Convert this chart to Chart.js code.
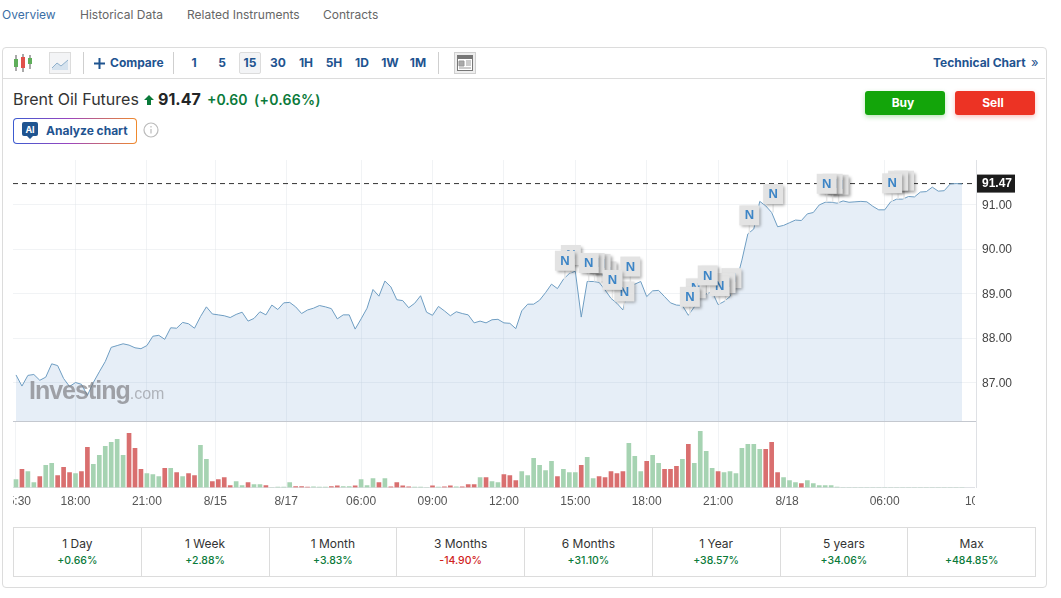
<!DOCTYPE html>
<html>
<head>
<meta charset="utf-8">
<title>Brent Oil Futures</title>
<script src="https://cdn.jsdelivr.net/npm/chart.js@4"></script>
<style>
  html, body { margin: 0; padding: 0; background: #fff; overflow: hidden; }
  body { width: 1061px; height: 598px; position: relative; font-family: Inter, "Noto Sans", sans-serif; color: #333; }
  .abs { position: absolute; white-space: nowrap; }
  .tab { top: 8px; font-size: 12px; line-height: 14px; color: #666; }
  .card { left: 2px; top: 47px; width: 1043px; height: 539px; border: 1px solid #dcdcdc; border-radius: 4px; }
  .tbline { left: 3px; top: 78px; width: 1042px; height: 1px; background: #dcdcdc; }
  .sep { top: 52px; width: 1px; height: 22px; background: #cfcfcf; }
  .tf { top: 52px; width: 22px; height: 22px; line-height: 22px; text-align: center; font-size: 12px; font-weight: 700; color: #1f5490; }
  .tf.on { background: #f3f4f6; border: 1px solid #dcdcdc; border-radius: 2px; height: 20px; width: 20px; line-height: 20px; }
  .btn { top: 91px; width: 76px; padding-right: 4px; height: 24px; line-height: 24px; text-align: center; border-radius: 3px; font-size: 12px; font-weight: 700; color: #fff; }
  .wrap { position: absolute; overflow: hidden; }
  canvas { display: block; }
  table.perf { position: absolute; left: 13px; top: 527px; width: 1023px; height: 50px; border-collapse: collapse; table-layout: fixed; }
  table.perf td { border: 1px solid #dcdcdc; text-align: center; padding: 0; font-size: 12px; line-height: 16px; color: #333; }
  table.perf b { display: block; font-size: 10.5px; font-weight: 500; color: #0a7a3a; margin-top: 1px; }
  table.perf b.neg { color: #d0231c; }
</style>
</head>
<body>

<div class="abs tab" style="left:2px;color:#3a6ea5">Overview</div>
<div class="abs tab" style="left:80px">Historical Data</div>
<div class="abs tab" style="left:187px">Related Instruments</div>
<div class="abs tab" style="left:323px">Contracts</div>

<div class="abs card"></div>
<div class="abs tbline"></div>

<svg class="abs" style="left:13px;top:53px" width="20" height="20">
  <path d="M3 2v16M10 1v18M17 2v14" stroke="#555" stroke-width="1"/>
  <rect x="1" y="6" width="4" height="8" fill="#5fae5a"/>
  <rect x="8" y="4" width="4" height="11" fill="#e0504a"/>
  <rect x="15" y="5" width="4" height="6" fill="#5fae5a"/>
</svg>
<svg class="abs" style="left:49px;top:52px" width="22" height="22">
  <rect x="0.5" y="0.5" width="21" height="21" fill="#f3f4f6" stroke="#dcdcdc"/>
  <path d="M3 16l5-5 4 3 7-6v10H3z" fill="#d5e2ee"/>
  <path d="M3 16l5-5 4 3 7-6" fill="none" stroke="#8fb0cc"/>
</svg>
<div class="abs sep" style="left:83px"></div>
<svg class="abs" style="left:93px;top:57px" width="13" height="13"><path d="M6.5 1v11M1 6.5h11" stroke="#1f5490" stroke-width="2"/></svg>
<div class="abs" style="left:110px;top:56px;font-size:12px;line-height:14px;font-weight:700;color:#1f5490">Compare</div>
<div class="abs sep" style="left:173px"></div>
<div class="abs tf" style="left:183px">1</div>
<div class="abs tf" style="left:211px">5</div>
<div class="abs tf on" style="left:239px">15</div>
<div class="abs tf" style="left:267px">30</div>
<div class="abs tf" style="left:295px">1H</div>
<div class="abs tf" style="left:323px">5H</div>
<div class="abs tf" style="left:351px">1D</div>
<div class="abs tf" style="left:379px">1W</div>
<div class="abs tf" style="left:407px">1M</div>
<div class="abs sep" style="left:438px"></div>
<svg class="abs" style="left:454px;top:52px" width="22" height="22">
  <rect x="0.5" y="0.5" width="21" height="21" fill="#eee" stroke="#cfcfcf"/>
  <rect x="3.5" y="3.5" width="15" height="15" fill="#fff" stroke="#777"/>
  <rect x="4" y="4" width="14" height="3" fill="#777"/>
  <path d="M5 9h5v5H5zM12 9h5M12 11h5M12 13h5M5 16h12" fill="#aaa" stroke="#999" stroke-width="1"/>
</svg>
<div class="abs" style="left:933px;top:56px;font-size:12px;line-height:14px;font-weight:700;color:#1f5490">Technical Chart</div>
<div class="abs" style="left:1031px;top:55px;font-size:13px;line-height:14px;color:#1f5490">»</div>

<div class="abs" style="left:13px;top:89px;font-size:16px;line-height:20px;color:#333">Brent Oil Futures</div>
<svg class="abs" style="left:143px;top:94px" width="12" height="12"><path d="M6 1l5 5H8v5H4V6H1z" fill="#0a7a3a"/></svg>
<div class="abs" style="left:158px;top:89px;font-size:16px;line-height:20px;font-weight:700;color:#232526">91.47</div>
<div class="abs" style="left:207px;top:90px;font-size:14px;line-height:20px;font-weight:600;color:#0a7a3a">+0.60</div>
<div class="abs" style="left:254px;top:90px;font-size:14px;line-height:20px;font-weight:600;letter-spacing:.25px;color:#0a7a3a">(+0.66%)</div>

<div class="abs btn" style="left:865px;background:#13a50a;box-shadow:0 2px 5px rgba(19,165,10,.3)">Buy</div>
<div class="abs btn" style="left:955px;background:#ec3324;box-shadow:0 2px 5px rgba(236,51,36,.3)">Sell</div>

<div class="abs" style="left:13px;top:118px;width:124px;height:26px;border-radius:4px;background:linear-gradient(90deg,#3b5bd0,#9a45c0 45%,#f08a2c);"></div>
<div class="abs" style="left:14px;top:119px;width:122px;height:24px;border-radius:3px;background:#fff;"></div>
<svg class="abs" style="left:22px;top:122px" width="16" height="17">
  <path d="M2 0h12a2 2 0 0 1 2 2v10a2 2 0 0 1-2 2h-3l-3 3-3-3H2a2 2 0 0 1-2-2V2a2 2 0 0 1 2-2z" fill="#1f5490"/>
  <text x="8" y="10.5" text-anchor="middle" font-size="9" font-weight="700" fill="#fff" font-family="Inter">AI</text>
</svg>
<div class="abs" style="left:46px;top:124px;font-size:12px;line-height:14px;font-weight:700;color:#1f5490">Analyze chart</div>
<svg class="abs" style="left:143px;top:122px" width="16" height="16">
  <circle cx="8" cy="8" r="7" fill="none" stroke="#bbb" stroke-width="1.2"/>
  <path d="M8 7v4.5M8 4v1.5" stroke="#bbb" stroke-width="1.2"/>
</svg>

<div class="wrap" style="left:13px;top:160px;width:1033px;height:262px">
  <canvas id="priceChart" width="1033" height="262"></canvas>
</div>
<div class="abs" style="left:29px;top:375px;font-family:'Liberation Sans',sans-serif;color:rgba(120,120,125,.66);letter-spacing:-1px;font-size:25px;line-height:30px;font-weight:700">Investing<span style="font-weight:400;font-size:16px;letter-spacing:0;color:rgba(120,120,125,.5)">.com</span></div>

<div class="wrap" style="left:13px;top:422px;width:962px;height:90px">
  <canvas id="volumeChart" width="1000" height="90"></canvas>
</div>
<div class="abs" style="left:976px;top:421px;width:1px;height:67px;background:#dfe1e5"></div>

<table class="perf"><tr id="perfRow"></tr></table>

<script>
// 15 min bars, index 0 = 15:30
const prices = [
  87.17,86.92,87.16,87.18,87.05,87.12,87.42,87.38,87.09,86.91,
  87.00,86.96,86.71,87.00,87.24,87.47,87.79,87.83,87.87,87.84,
  87.78,87.76,87.83,88.04,88.06,87.97,88.23,88.22,88.35,88.32,
  88.22,88.48,88.70,88.54,88.52,88.50,88.46,88.53,88.58,88.38,
  88.44,88.59,88.52,88.74,88.64,88.79,88.80,88.70,88.55,88.63,
  88.67,88.73,88.70,88.66,88.43,88.52,88.52,88.20,88.43,88.67,
  89.09,88.94,89.28,89.15,88.86,88.84,88.68,88.78,88.95,88.58,
  88.51,88.71,88.61,88.50,88.59,88.55,88.52,88.34,88.38,88.34,
  88.41,88.42,88.34,88.33,88.21,88.61,88.76,88.76,88.85,89.02,
  89.21,89.11,89.32,89.45,89.50,88.47,89.27,89.27,89.25,89.08,
  88.89,88.78,88.63,89.19,89.21,89.27,88.93,89.06,89.07,88.93,
  88.79,88.74,88.73,88.51,88.70,88.93,88.99,89.04,88.75,88.82,
  88.93,89.23,89.75,90.34,90.45,91.07,90.97,90.82,90.50,90.53,
  90.59,90.65,90.64,90.79,90.82,90.99,91.05,91.05,91.03,91.08,
  91.05,91.06,91.07,91.06,90.96,90.88,90.88,91.06,91.12,91.12,
  91.18,91.17,91.28,91.29,91.39,91.30,91.31,91.46,91.47,91.46
];
const volumes = [
  24,54,48,15,33,66,72,36,60,45,
  42,48,120,69,96,123,135,144,96,162,
  117,54,42,39,33,57,57,45,33,42,
  36,126,84,18,24,30,6,18,6,15,
  9,9,6,0,1,1,15,3,3,1,
  2,1,1,3,5,3,3,5,24,6,
  27,15,27,2,15,5,2,1,1,0,
  5,1,2,5,2,2,9,9,30,30,
  18,15,39,36,21,48,36,87,66,51,
  78,33,54,45,45,66,90,27,33,30,
  48,42,48,132,93,48,78,96,72,54,
  54,63,84,129,72,168,108,57,48,45,
  48,42,117,129,129,114,114,135,45,30,
  21,15,12,21,12,6,6,6,1,0,
  0,0,0,0,0,0,0,0,0,0,
  0,0,0,0,0,0,0,0,0,0
];
// 1 = up bar, -1 = down bar
const volumeDir = [
  1,-1,1,1,-1,1,1,-1,-1,-1,
  1,-1,-1,1,1,1,1,1,1,-1,
  -1,-1,1,1,1,-1,1,-1,1,-1,
  -1,1,1,-1,-1,-1,-1,1,1,-1,
  1,1,-1,1,1,1,1,-1,-1,-1,
  1,1,1,-1,-1,1,1,-1,1,1,
  1,-1,1,-1,-1,-1,-1,1,1,1,
  -1,1,-1,-1,1,-1,-1,-1,1,-1,
  1,1,-1,-1,-1,1,1,1,1,1,
  1,-1,1,1,1,-1,1,1,-1,-1,
  -1,-1,-1,1,1,1,-1,1,1,-1,
  -1,-1,1,-1,1,1,1,1,-1,1,
  1,1,1,1,1,1,-1,-1,-1,1,
  1,1,-1,1,1,1,1,1,1,1,
  1,1,1,1,1,1,1,1,1,1,
  1,1,1,1,1,1,1,1,1,1
];
const lastPrice = 91.47;
const priceTicks = [87, 88, 89, 90, 91];
const timeTickIdx = [0, 10, 22, 33.5, 45.4, 58, 70, 82, 94, 106, 118, 129.6, 146, 162];
const timeTickLabels = ["15:30","18:00","21:00","8/15","8/17","06:00","09:00","12:00","15:00","18:00","21:00","8/18","06:00","10:00"];
// bar index of each news flag, in paint order (last one on top)
const newsFlags = [93,92,99,98,97,96,103,102,100,114,113,120,119,118,116,123,127,138,137,136,149,148,147];
const perfLabels = ["1 Day","1 Week","1 Month","3 Months","6 Months","1 Year","5 years","Max"];
const perfValues = ["+0.66%","+2.88%","+3.83%","-14.90%","+31.10%","+38.57%","+34.06%","+484.85%"];

const PX_PER_BAR = 5.95;
const X_MIN = -0.504;

document.getElementById("perfRow").innerHTML = perfLabels.map((l, i) =>
  `<td>${l}<b class="${perfValues[i][0] === "-" ? "neg" : ""}">${perfValues[i]}</b></td>`).join("");

const gridClr = "rgba(225,228,232,.45)";
const axisFont = { family: "'Liberation Sans', Arial, sans-serif", size: 12 };

function noPad(s) { s.paddingLeft = 0; s.paddingRight = 0; s.paddingTop = 0; s.paddingBottom = 0; }

/* flags and the last price tag */
const overlayPlugin = {
  id: "overlay",
  // price labels sit about a pixel lower than their grid line in the original
  beforeDraw(chart) {
    chart.scales.y.getLabelItems(chart.chartArea).forEach(it => { it.options.translation[1] += 1; });
  },
  afterDatasetsDraw(chart) {
    const { ctx, scales: { x, y } } = chart;
    newsFlags.forEach(i => {
      const px = x.getPixelForValue(i) + 1.5;
      const py = y.getPixelForValue(prices[i]);
      ctx.save();
      ctx.strokeStyle = "#e8e8e8";
      ctx.lineWidth = 1.5;
      ctx.beginPath(); ctx.moveTo(px, py - 9); ctx.lineTo(px, py); ctx.stroke();
      ctx.shadowColor = "rgba(0,0,0,.35)";
      ctx.shadowBlur = 3;
      ctx.shadowOffsetX = 2;
      ctx.shadowOffsetY = 2;
      ctx.fillStyle = "#e3e3e3";
      ctx.fillRect(px - 10, py - 28.5, 20, 20);
      ctx.restore();
      ctx.save();
      ctx.fillStyle = "#3d85c6";
      ctx.font = "bold 13px 'Liberation Sans', Arial, sans-serif";
      ctx.textAlign = "center";
      ctx.textBaseline = "middle";
      ctx.fillText("N", px, py - 18);
      ctx.restore();
    });
    const ty = y.getPixelForValue(lastPrice);
    ctx.save();
    ctx.fillStyle = "#1c1c1c";
    ctx.fillRect(x.right + 1, ty - 9, 38, 18);
    ctx.fillStyle = "#fff";
    ctx.font = "bold 12px 'Liberation Sans', Arial, sans-serif";
    ctx.textAlign = "left";
    ctx.textBaseline = "middle";
    ctx.fillText(lastPrice.toFixed(2), x.right + 6, ty + 0.5);
    ctx.restore();
  }
};

const xMaxPrice = X_MIN + 963 / PX_PER_BAR;

new Chart(document.getElementById("priceChart"), {
  type: "line",
  data: {
    datasets: [
      {
        data: prices.map((v, i) => ({ x: i, y: v })),
        borderColor: "#6e9dc2",
        backgroundColor: "rgba(117,162,208,.18)",
        borderWidth: 1,
        pointRadius: 0,
        tension: 0,
        fill: "start"
      },
      {
        data: [{ x: X_MIN, y: lastPrice }, { x: xMaxPrice, y: lastPrice }],
        borderColor: "#333",
        borderWidth: 1,
        borderDash: [5, 4],
        pointRadius: 0,
        fill: false
      }
    ]
  },
  options: {
    responsive: false,
    animation: false,
    events: [],
    layout: { padding: 0 },
    plugins: { legend: { display: false }, tooltip: { enabled: false } },
    scales: {
      x: {
        type: "linear",
        min: X_MIN,
        max: xMaxPrice,
        afterBuildTicks(s) { s.ticks = timeTickIdx.filter(v => v > 1 && v < xMaxPrice).map(v => ({ value: v })); },
        afterFit(s) { noPad(s); s.height = 1; },
        ticks: { display: false },
        grid: { color: gridClr, drawTicks: false },
        border: { color: "#c4c8cf" }
      },
      y: {
        position: "right",
        min: 86.135,
        max: 92,
        afterBuildTicks(s) { s.ticks = priceTicks.map(v => ({ value: v })); },
        afterFit(s) { noPad(s); s.width = 70; },
        ticks: { color: "#444", font: axisFont, padding: 6, callback: v => v.toFixed(2) },
        grid: { color: gridClr, drawTicks: false },
        border: { color: "#dfe1e5" }
      }
    }
  },
  plugins: [overlayPlugin]
});

new Chart(document.getElementById("volumeChart"), {
  type: "bar",
  data: {
    datasets: [{
      data: volumes.map((v, i) => ({ x: i, y: v })),
      backgroundColor: volumeDir.map(d => d > 0 ? "#a6d3b2" : "#d96f6f"),
      barThickness: 4,
      borderWidth: 0
    }]
  },
  options: {
    responsive: false,
    animation: false,
    events: [],
    layout: { padding: 0 },
    plugins: { legend: { display: false }, tooltip: { enabled: false } },
    scales: {
      x: {
        type: "linear",
        offset: false,
        min: X_MIN,
        max: X_MIN + 1000 / PX_PER_BAR,
        afterBuildTicks(s) { s.ticks = timeTickIdx.map(v => ({ value: v })); },
        afterFit(s) { noPad(s); s.height = 24.5; },
        ticks: {
          color: "#555",
          font: axisFont,
          padding: 7,
          maxRotation: 0,
          autoSkip: false,
          callback: (v, i) => timeTickLabels[i]
        },
        grid: { color: gridClr, drawTicks: false, offset: false },
        border: { color: "#dfe1e5" }
      },
      y: { display: false, min: 0, max: 196 }
    }
  }
});
</script>
</body>
</html>
